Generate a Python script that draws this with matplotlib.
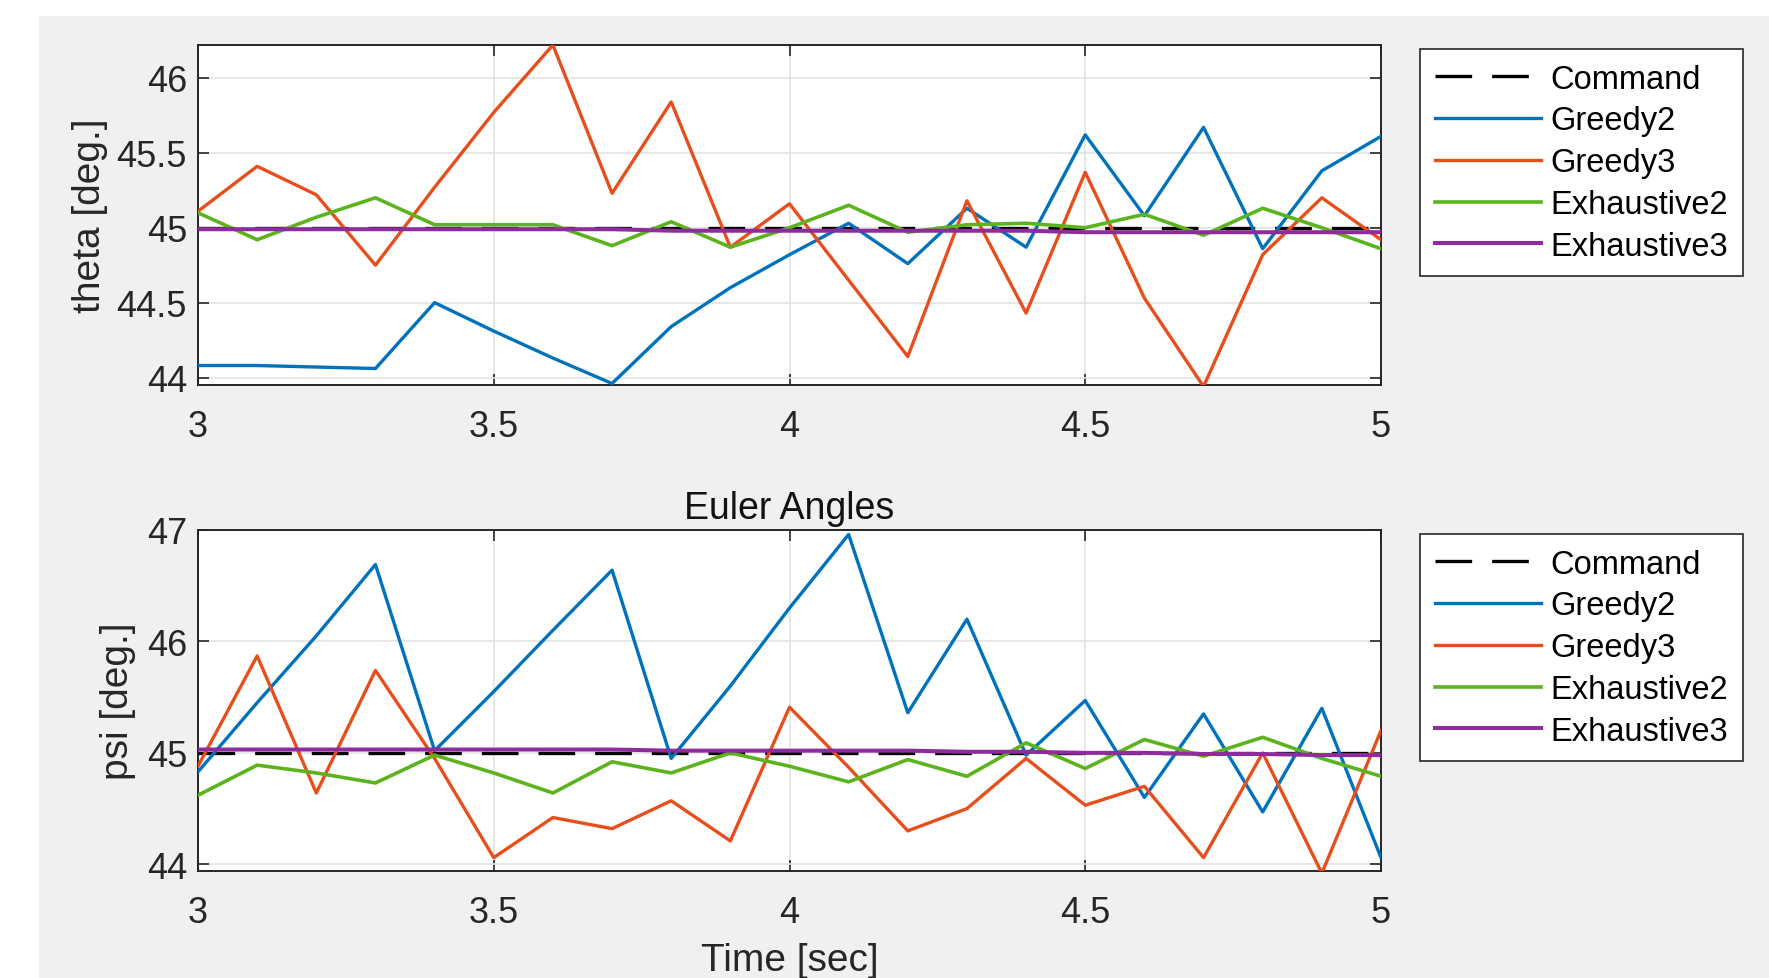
import numpy as np
import matplotlib.pyplot as plt
from matplotlib.patches import Rectangle

plt.rcParams['font.family'] = ['Liberation Sans', 'DejaVu Sans']

# time samples
t = [3.0, 3.1, 3.2, 3.3, 3.4, 3.5, 3.6, 3.7, 3.8, 3.9, 4.0,
     4.1, 4.2, 4.3, 4.4, 4.5, 4.6, 4.7, 4.8, 4.9, 5.0]

# theta [deg.]
theta_cmd = [45.0] * 21
theta_greedy2 = [44.08, 44.08, 44.07, 44.06, 44.50, 44.31, 44.13, 43.96, 44.34, 44.60, 44.82,
                 45.03, 44.76, 45.13, 44.87, 45.62, 45.08, 45.67, 44.86, 45.38, 45.61]
theta_greedy3 = [45.11, 45.41, 45.22, 44.75, 45.27, 45.77, 46.22, 45.23, 45.84, 44.87, 45.16,
                 44.65, 44.14, 45.18, 44.43, 45.37, 44.53, 43.94, 44.82, 45.20, 44.92]
theta_exh2 = [45.10, 44.92, 45.07, 45.20, 45.02, 45.02, 45.02, 44.88, 45.04, 44.87, 45.00,
              45.15, 44.97, 45.02, 45.03, 45.00, 45.09, 44.95, 45.13, 45.00, 44.86]
theta_exh3 = [44.99, 44.99, 44.99, 44.99, 44.99, 44.99, 44.99, 44.99, 44.98, 44.98, 44.98,
              44.98, 44.98, 44.98, 44.98, 44.97, 44.97, 44.97, 44.97, 44.97, 44.97]

# psi [deg.]
psi_cmd = [45.0] * 21
psi_greedy2 = [44.83, 45.45, 46.05, 46.69, 45.02, 45.55, 46.10, 46.64, 44.95, 45.60, 46.30,
               46.96, 45.36, 46.20, 44.98, 45.47, 44.60, 45.35, 44.47, 45.40, 44.06]
psi_greedy3 = [44.88, 45.87, 44.64, 45.74, 44.95, 44.06, 44.42, 44.32, 44.57, 44.21, 45.41,
               44.87, 44.30, 44.50, 44.95, 44.53, 44.70, 44.06, 45.00, 43.92, 45.20]
psi_exh2 = [44.62, 44.89, 44.82, 44.73, 44.98, 44.82, 44.64, 44.92, 44.82, 45.00, 44.88,
            44.74, 44.94, 44.79, 45.09, 44.86, 45.12, 44.97, 45.14, 44.95, 44.79]
psi_exh3 = [45.03, 45.03, 45.03, 45.03, 45.03, 45.03, 45.03, 45.03, 45.02, 45.02, 45.02,
            45.02, 45.02, 45.01, 45.01, 45.00, 45.00, 44.99, 44.99, 44.98, 44.98]

names = ['Command', 'Greedy2', 'Greedy3', 'Exhaustive2', 'Exhaustive3']
colors = ['black', '#0072BD', '#E84E1B', '#5DB31E', '#8E2C9E']

fig = plt.figure(figsize=(17.69, 9.79), dpi=100, facecolor='white')
# grey figure area (window background)
fig.patches.append(Rectangle((39 / 1769, 0), 1, 1 - 17 / 979, transform=fig.transFigure,
                             facecolor='#f0f0f0', edgecolor='none', zorder=-10))

ax1 = fig.add_axes([198 / 1769, 1 - 386 / 979, 1183 / 1769, 340 / 979])
ax2 = fig.add_axes([198 / 1769, 1 - 872 / 979, 1183 / 1769, 341 / 979])


def draw(ax, cmd, g2, g3, e2, e3):
    ax.plot(t, cmd, color=colors[0], lw=2.4, dashes=(11, 6), zorder=3)
    ax.plot(t, g2, color=colors[1], lw=2.4, zorder=4)
    ax.plot(t, g3, color=colors[2], lw=2.4, zorder=4)
    ax.plot(t, e2, color=colors[3], lw=2.6, zorder=4)
    ax.plot(t, e3, color=colors[4], lw=2.9, zorder=5)
    ax.set_xlim(3, 5)
    ax.set_xticks([3, 3.5, 4, 4.5, 5])
    ax.set_xticklabels(['3', '3.5', '4', '4.5', '5'])
    ax.grid(True, color='#e3e3e3', lw=1.2)
    ax.set_axisbelow(True)
    ax.tick_params(direction='in', top=True, right=True, labelsize=26,
                   colors='#262626', length=8, width=1.2)
    ax.tick_params(axis='x', pad=17)
    ax.tick_params(axis='y', pad=8)
    for s in ax.spines.values():
        s.set_color('#262626')
        s.set_linewidth(1.4)
    ax.set_facecolor('white')


draw(ax1, theta_cmd, theta_greedy2, theta_greedy3, theta_exh2, theta_exh3)
ax1.set_ylim(43.95, 46.22)
ax1.set_yticks([44, 44.5, 45, 45.5, 46])
ax1.set_yticklabels(['44', '44.5', '45', '45.5', '46'])
ax1.set_ylabel('theta [deg.]', fontsize=28, color='#262626', va='center')
ax1.yaxis.set_label_coords((90 - 198) / 1183, 0.5)

draw(ax2, psi_cmd, psi_greedy2, psi_greedy3, psi_exh2, psi_exh3)
ax2.set_ylim(43.94, 47.0)
ax2.set_yticks([44, 45, 46, 47])
ax2.set_yticklabels(['44', '45', '46', '47'])
ax2.set_ylabel('psi [deg.]', fontsize=28, color='#262626', va='center')
ax2.yaxis.set_label_coords((118 - 198) / 1183, 0.5)
ax2.set_xlabel('Time [sec]', fontsize=28, color='#262626', va='center')
ax2.xaxis.set_label_coords(0.5, (872 - 961) / 341)
ax2.set_title('Euler Angles', fontsize=27, color='#111111', va='center',
              y=1 + (531 - 509) / 341, pad=0)

for ax, ytop in [(ax1, 50), (ax2, 535)]:
    leg = ax.legend(names, loc='upper left', bbox_to_anchor=(1420 / 1769, 1 - ytop / 979),
                    bbox_transform=fig.transFigure, fontsize=23.5, frameon=True,
                    fancybox=False, edgecolor='#262626', framealpha=1,
                    handlelength=3.25, handletextpad=0.3, labelspacing=0.33,
                    borderpad=0.45, borderaxespad=0)
    leg.get_frame().set_linewidth(1.2)

fig.savefig('out.png', dpi=100, facecolor=fig.get_facecolor())
